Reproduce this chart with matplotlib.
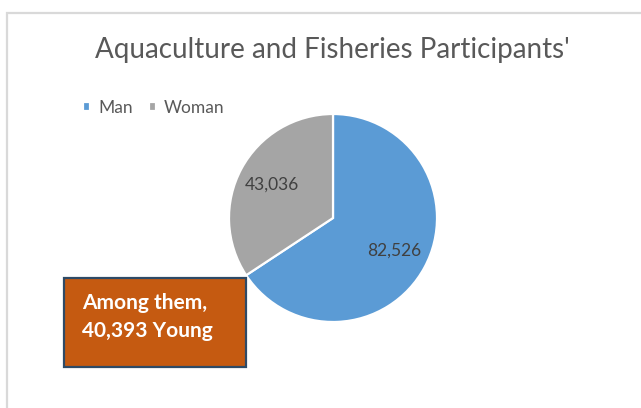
import matplotlib.pyplot as plt
from matplotlib.patches import Rectangle

# Data
labels = ['Man', 'Woman']
values = [82526, 43036]
colors = ['#5B9BD5', '#A5A5A5']
title = "Aquaculture and Fisheries Participants'"
note = 'Among them,\n40,393 Young'

W, H = 641, 408
plt.rcParams['font.family'] = ['Lato', 'DejaVu Sans']

fig = plt.figure(figsize=(W / 100, H / 100), dpi=100)

# chart border (light gray frame running off the right and bottom)
fig.patches.append(Rectangle((7 / W, -0.1), 1.2, (H - 13) / H + 0.1,
                             transform=fig.transFigure, fill=False,
                             edgecolor='#D9D9D9', linewidth=1.6))

# pie axes: centre (333, 218), radius 104 px
cx, cy, r = 333, 218, 104
ax = fig.add_axes([(cx - r) / W, (H - cy - r) / H, 2 * r / W, 2 * r / H])
total = sum(values)
wedges, texts, autotexts = ax.pie(
    values, colors=colors, startangle=90, counterclock=False,
    autopct=lambda p: f'{p * total / 100:,.0f}', pctdistance=0.67,
    wedgeprops=dict(edgecolor='white', linewidth=1.6),
    textprops=dict(color='#404040', fontsize=12.5))
ax.set_xlim(-1, 1)
ax.set_ylim(-1, 1)
ax.set_aspect('equal')
ax.axis('off')

fig.text(332 / W, (H - 50) / H, title, ha='center', va='center',
         fontsize=20, color='#595959')

fig.legend(wedges, labels, loc='center left',
           bbox_to_anchor=(67 / W, (H - 108) / H), ncol=2, frameon=False,
           fontsize=12.5, labelcolor='#595959', handlelength=0.45,
           handleheight=0.45, handletextpad=0.45, columnspacing=0.9)

# orange note box
fig.patches.append(Rectangle((64 / W, (H - 367) / H), 182 / W, 89 / H,
                             transform=fig.transFigure, facecolor='#C55A11',
                             edgecolor='#2E4A66', linewidth=1.6, zorder=5))
fig.text(82 / W, (H - 317) / H, note, ha='left', va='center', fontsize=15,
         fontweight='bold', color='white', linespacing=1.5, zorder=6)

plt.savefig('out.png', dpi=100)
plt.close()
